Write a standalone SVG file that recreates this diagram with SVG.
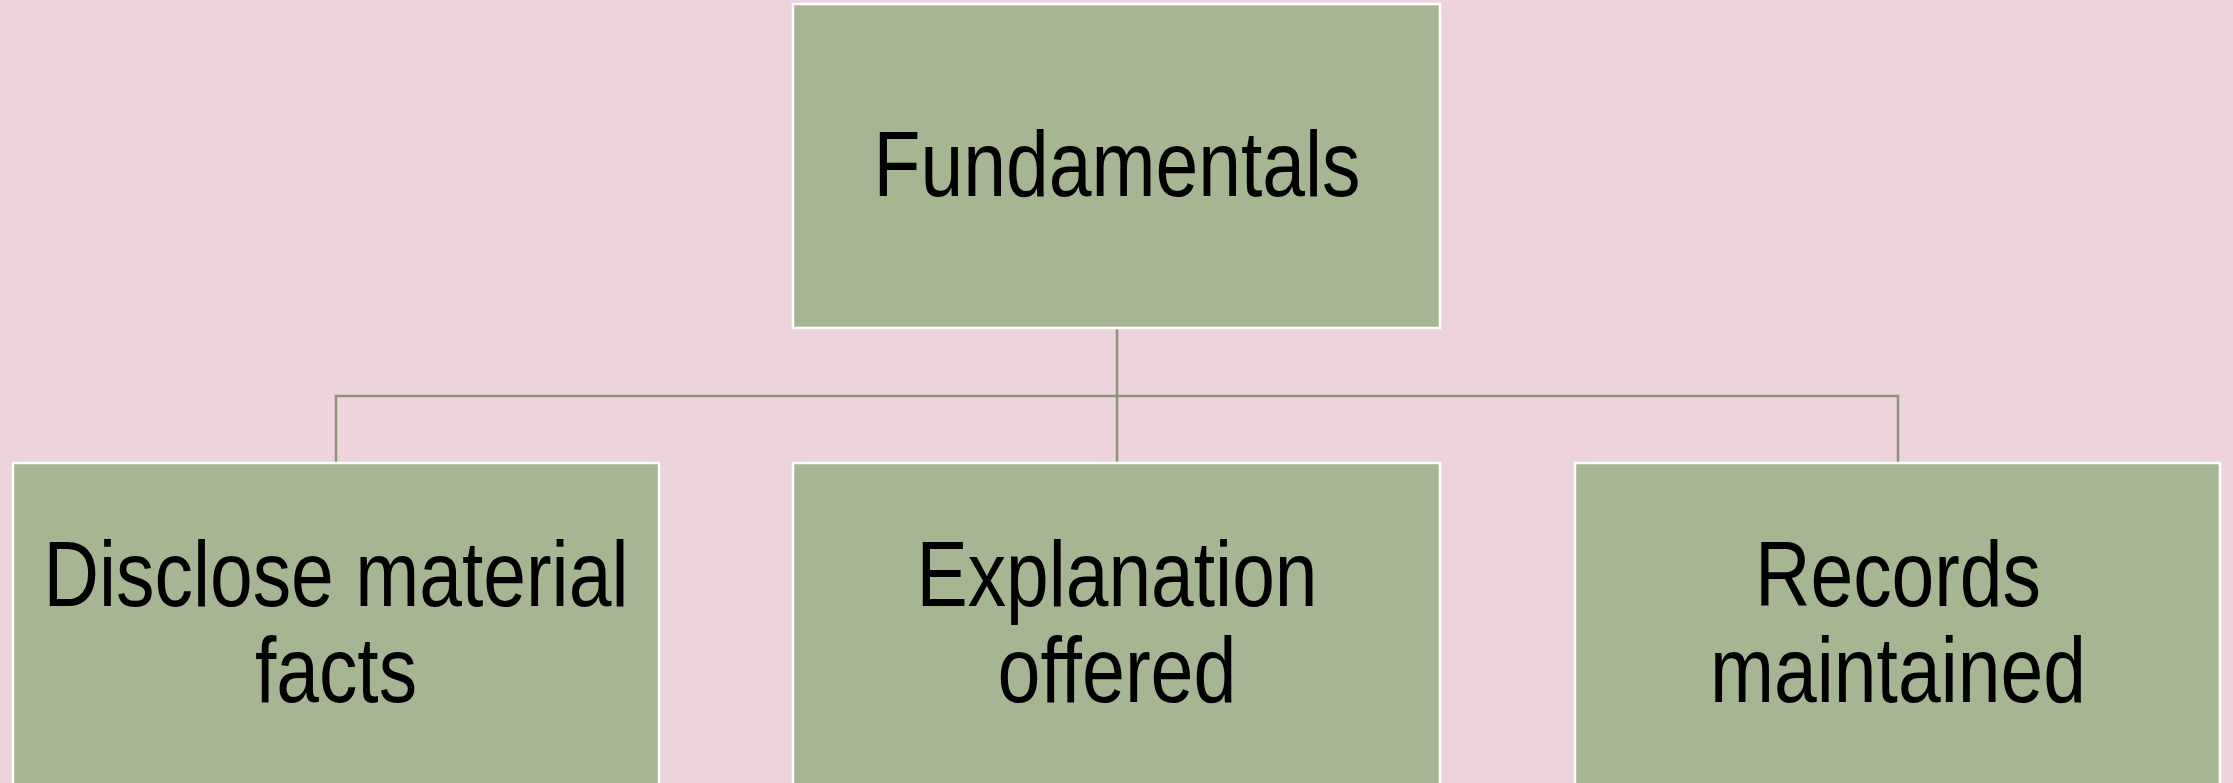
<svg xmlns="http://www.w3.org/2000/svg" width="2233" height="783" viewBox="0 0 2233 783">
<style>
.box{fill:#A6B592;stroke:#FFFFFF;stroke-width:2.5}
.lbl{font-family:"Liberation Sans",Arial,sans-serif;font-size:93px;fill:#000000;text-anchor:middle}
.conn{fill:none;stroke:#8A947A;stroke-width:2.5}
</style>
<rect x="0" y="0" width="2233" height="783" fill="#EDD3DC"/>
<g id="connectors">
<path class="conn" d="M1117,328 V463"/>
<path class="conn" d="M336,463 V396 H1898 V463"/>
</g>
<g id="node-fundamentals">
<rect class="box" x="793" y="4" width="647" height="324"/>
<text class="lbl" x="1117" y="196" textLength="487" lengthAdjust="spacingAndGlyphs">Fundamentals</text>
</g>
<g id="node-disclose">
<rect class="box" x="13" y="463" width="646" height="330"/>
<text class="lbl" x="336" y="606" textLength="585" lengthAdjust="spacingAndGlyphs">Disclose material</text>
<text class="lbl" x="336" y="702" textLength="162" lengthAdjust="spacingAndGlyphs">facts</text>
</g>
<g id="node-explanation">
<rect class="box" x="793" y="463" width="647" height="330"/>
<text class="lbl" x="1117" y="606" textLength="401" lengthAdjust="spacingAndGlyphs">Explanation</text>
<text class="lbl" x="1117" y="702" textLength="239" lengthAdjust="spacingAndGlyphs">offered</text>
</g>
<g id="node-records">
<rect class="box" x="1575" y="463" width="645" height="330"/>
<text class="lbl" x="1898" y="606" textLength="286" lengthAdjust="spacingAndGlyphs">Records</text>
<text class="lbl" x="1898" y="702" textLength="376" lengthAdjust="spacingAndGlyphs">maintained</text>
</g>
</svg>
